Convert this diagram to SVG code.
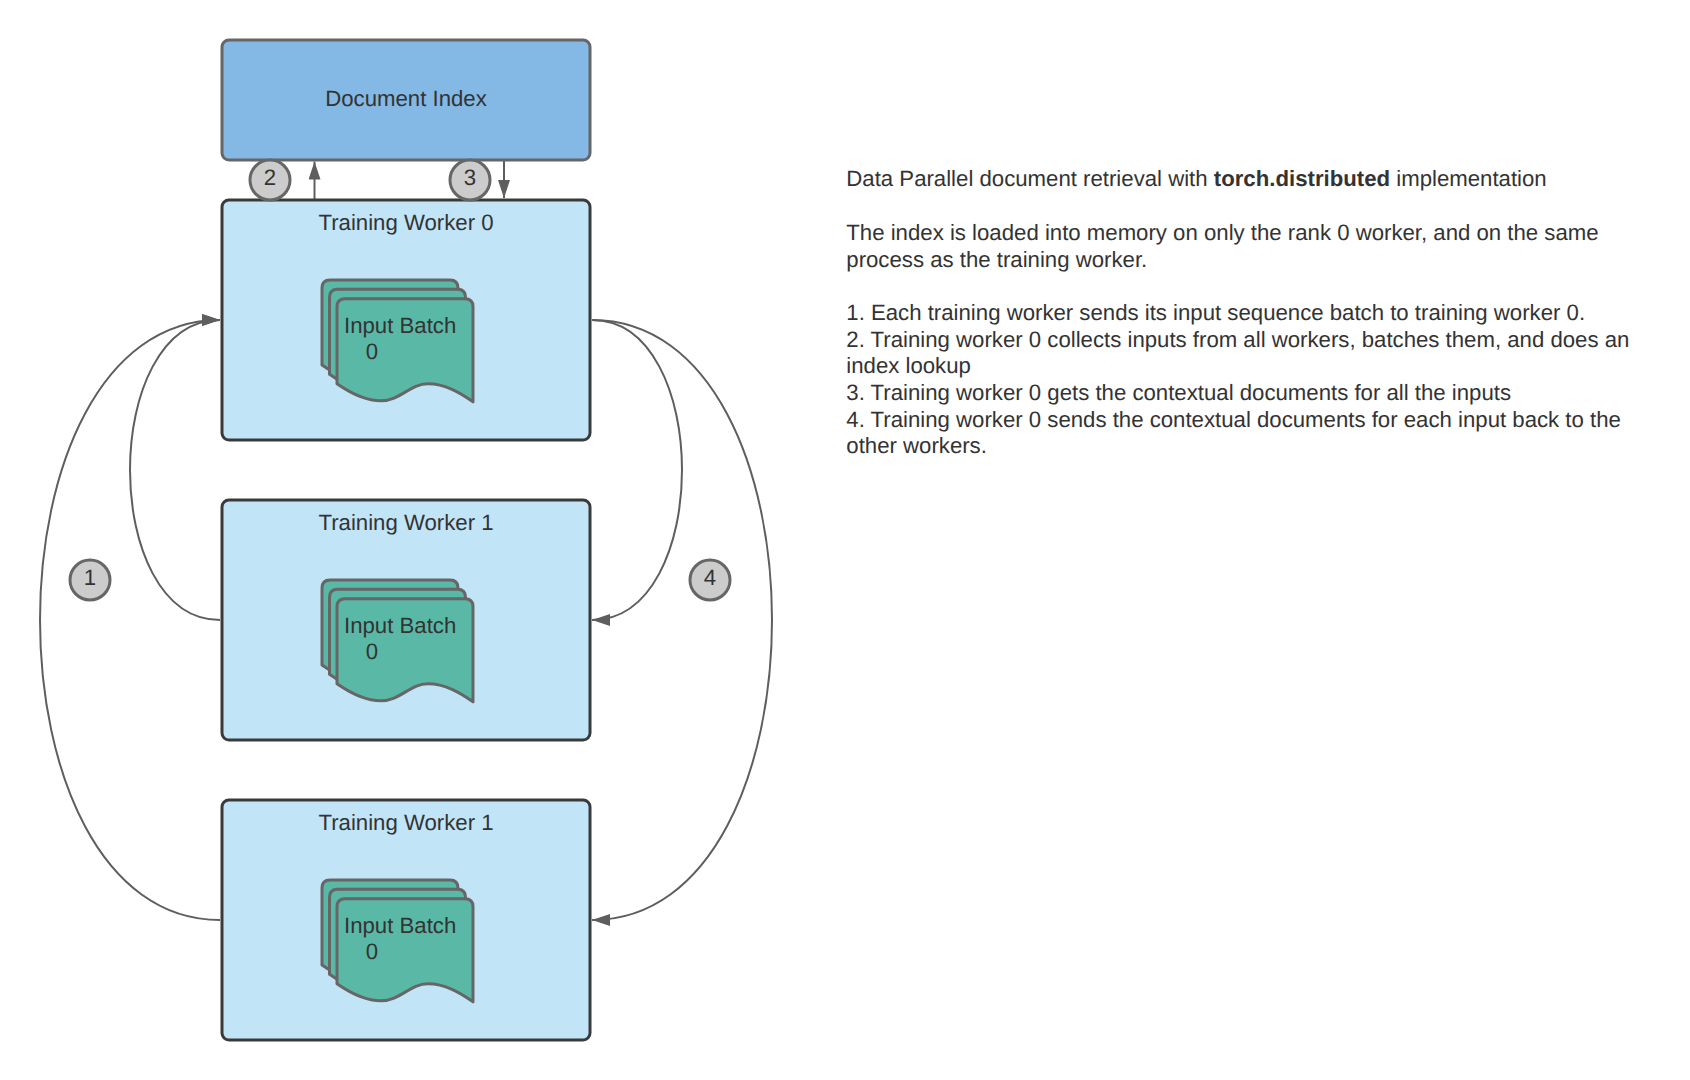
<svg xmlns="http://www.w3.org/2000/svg" width="1690" height="1080" viewBox="0 0 1690 1080">
<style>
text{font-family:"Liberation Sans",Arial,sans-serif;font-size:22.2px;fill:#333;text-rendering:geometricPrecision}
.m{text-anchor:middle}
.box{fill:#c1e4f7;stroke:#3a3a3a;stroke-width:3}
.doc{fill:#5ab9a6;stroke:#666;stroke-width:3;stroke-linejoin:round}
.badge{fill:#ccc;stroke:#666;stroke-width:3}
.c{fill:none;stroke:#5e5e5e;stroke-width:2}
</style>
<defs>
<marker id="a" markerUnits="userSpaceOnUse" markerWidth="20" markerHeight="14" refX="18" refY="6" orient="auto"><path d="M0 0L18 6L0 12Z" fill="#5e5e5e"/></marker>
<path id="d" d="M0 85C13 94 28 102 44 102C63 102 73 85 91 85C108 85 123 94 136 103V8Q136 0 128 0H8Q0 0 0 8Z"/>
</defs>
<g id="connectors">
<path class="c" d="M220 620C100 620 100 320 220 320" marker-end="url(#a)"/>
<path class="c" d="M220 920C-20 920 -20 320 220 320" marker-end="url(#a)"/>
<path class="c" d="M592 320C712 320 712 620 592 620" marker-end="url(#a)"/>
<path class="c" d="M592 320C832 320 832 920 592 920" marker-end="url(#a)"/>
<path class="c" d="M314.5 200V161.500" marker-end="url(#a)"/>
<path class="c" d="M504 160V198" marker-end="url(#a)"/>
</g>
<g id="document-index"><rect x="222" y="40" width="368" height="120" rx="7" fill="#83b9e4" stroke="#666" stroke-width="3"/><text class="m" x="406" y="106">Document Index</text></g>
<g id="worker-0"><rect class="box" x="222" y="200" width="368" height="240" rx="7"/><text class="m" x="406" y="230.300">Training Worker 0</text>
<use class="doc" href="#d" x="322" y="280"/><use class="doc" href="#d" x="329.500" y="289.300"/><use class="doc" href="#d" x="337" y="298.800"/>
<text x="344" y="332.500">Input Batch</text><text x="365.700" y="359.200">0</text></g>
<g id="worker-1"><rect class="box" x="222" y="500" width="368" height="240" rx="7"/><text class="m" x="406" y="530.300">Training Worker 1</text>
<use class="doc" href="#d" x="322" y="580"/><use class="doc" href="#d" x="329.500" y="589.300"/><use class="doc" href="#d" x="337" y="598.800"/>
<text x="344" y="632.500">Input Batch</text><text x="365.700" y="659.200">0</text></g>
<g id="worker-2"><rect class="box" x="222" y="800" width="368" height="240" rx="7"/><text class="m" x="406" y="830.300">Training Worker 1</text>
<use class="doc" href="#d" x="322" y="880"/><use class="doc" href="#d" x="329.500" y="889.300"/><use class="doc" href="#d" x="337" y="898.800"/>
<text x="344" y="932.500">Input Batch</text><text x="365.700" y="959.200">0</text></g>
<g id="badge-1"><circle class="badge" cx="90" cy="580" r="20"/><text class="m" x="90" y="585">1</text></g>
<g id="badge-2"><circle class="badge" cx="270" cy="180" r="20"/><text class="m" x="270" y="185">2</text></g>
<g id="badge-3"><circle class="badge" cx="470" cy="180" r="20"/><text class="m" x="470" y="185">3</text></g>
<g id="badge-4"><circle class="badge" cx="710" cy="580" r="20"/><text class="m" x="710" y="585">4</text></g>
<g id="notes">
<text x="846.300" y="186.300">Data Parallel document retrieval with <tspan font-weight="bold">torch.distributed</tspan> implementation</text>
<text x="846.300" y="240">The index is loaded into memory on only the rank 0 worker, and on the same</text>
<text x="846.300" y="266.700">process as the training worker.</text>
<text x="846.300" y="320">1. Each training worker sends its input sequence batch to training worker 0.</text>
<text x="846.300" y="346.500">2. Training worker 0 collects inputs from all workers, batches them, and does an</text>
<text x="846.300" y="373">index lookup</text>
<text x="846.300" y="400">3. Training worker 0 gets the contextual documents for all the inputs</text>
<text x="846.300" y="426.500">4. Training worker 0 sends the contextual documents for each input back to the</text>
<text x="846.300" y="453">other workers.</text>
</g>
</svg>
